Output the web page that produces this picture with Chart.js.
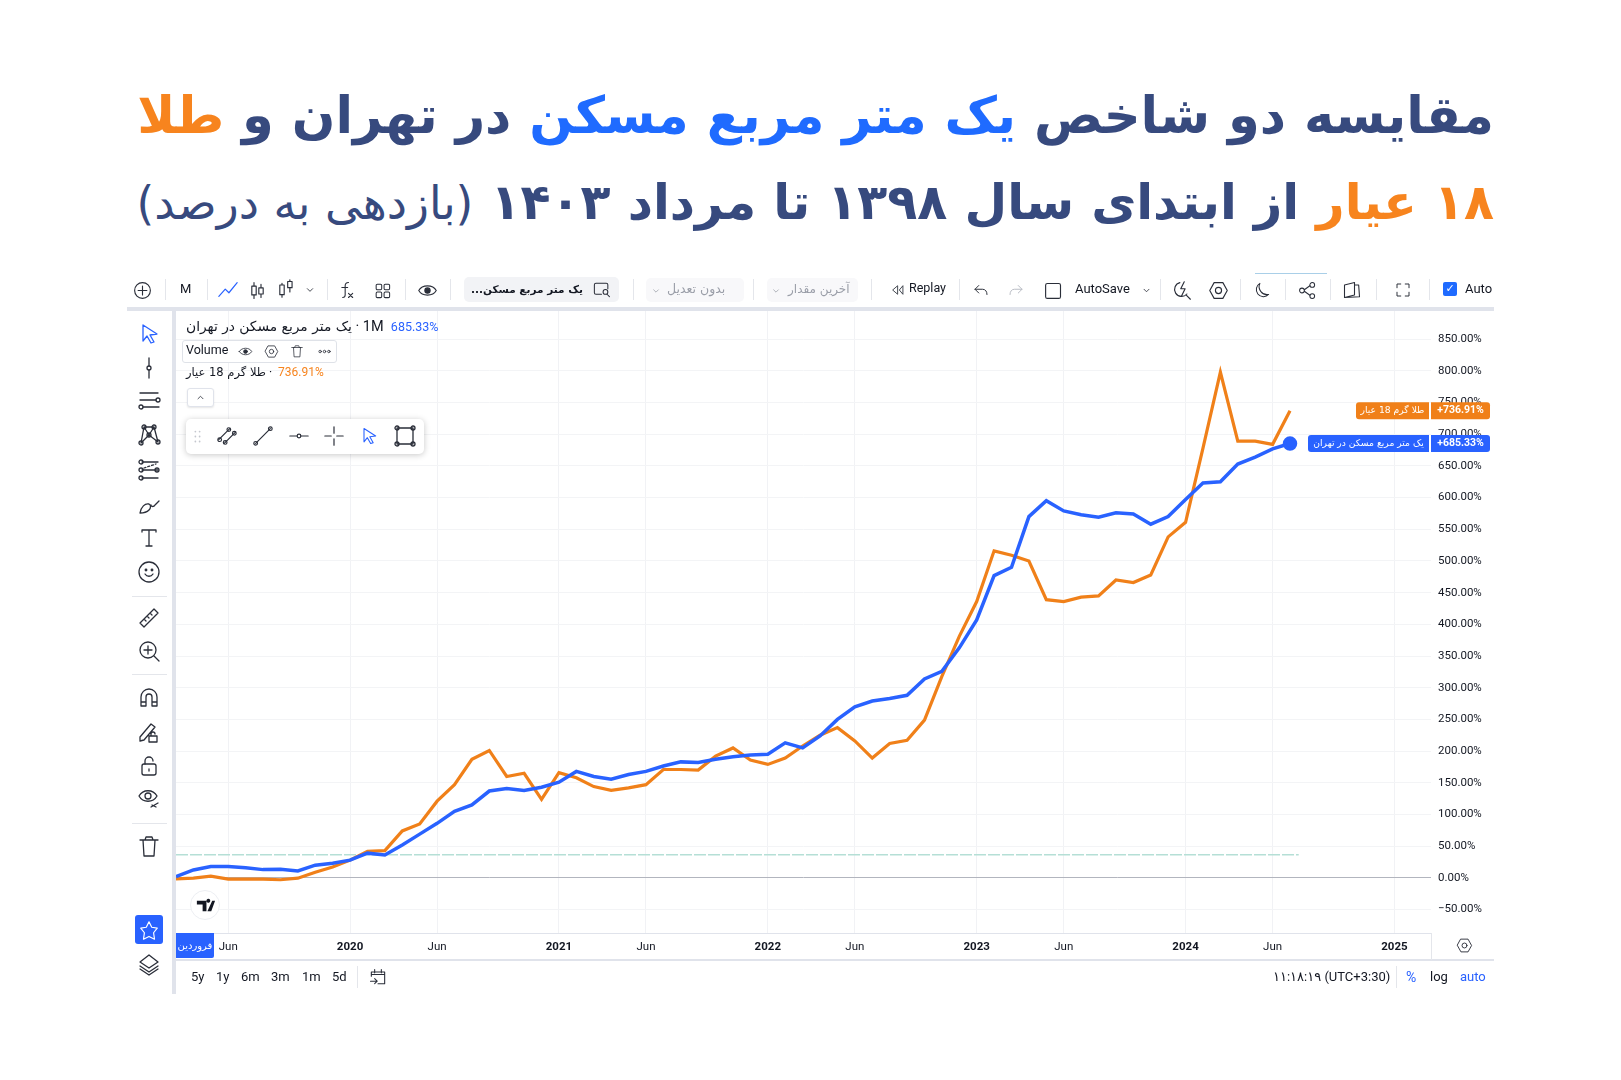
<!DOCTYPE html>
<html lang="fa">
<head>
<meta charset="utf-8">
<title>مقایسه مسکن و طلا</title>
<script src="https://cdn.jsdelivr.net/npm/chart.js@4"></script>
<style>
html, body { margin: 0; padding: 0; background: #fff; }
body { width: 1621px; height: 1080px; position: relative; overflow: hidden; font-family: Roboto, "DejaVu Sans", sans-serif; color: #131722; }
.abs { position: absolute; white-space: nowrap; }
.title { position: absolute; right: 127px; white-space: nowrap; direction: rtl; font-family: "DejaVu Sans", sans-serif; font-weight: 700; color: #374a7e; }
.blue { color: #1f6bff; }
.orange { color: #f7841e; }
.thin { font-weight: 400; }
svg.ic { position: absolute; fill: none; stroke: #2a2e39; stroke-width: 1.3; stroke-linecap: round; stroke-linejoin: round; }
#chartBox { position: absolute; left: 176px; top: 310px; width: 1318px; height: 650px; }
</style>
</head>
<body>

<div class="title" style="top:72px;font-size:51.2px;line-height:86px">مقایسه دو شاخص <span class="blue">یک متر مربع مسکن</span> در تهران و <span class="orange">طلا</span></div>
<div class="title" style="top:160px;font-size:49.2px;line-height:84px"><span class="orange">۱۸ عیار</span> از ابتدای سال ۱۳۹۸ تا مرداد ۱۴۰۳ <span class="thin" style="font-size:45.5px">(بازدهی به درصد)</span></div>

<div id="chartBox"><canvas id="chart"></canvas></div>
<div id="ui"></div>

<script>
// Series values, one per month from Mar 2019 to Jul 2024 (percent return)
const housingValues = [2, 12.5, 18, 18, 16, 13, 13.6, 11, 20, 23,
    28, 39, 36, 52, 69, 86, 105, 115, 137, 141,
    138, 143, 151, 168, 160, 155.5, 163, 168, 176.5, 183,
    182, 187, 191, 194, 195, 213, 205, 224, 250, 270,
    279, 283, 288, 314, 326, 363, 407, 477, 490, 570,
    595, 579, 573, 569, 576, 574, 558, 570, 597, 623,
    625, 653, 664, 677, 685.33];
const goldValues = [-1.5, -0.5, 2.6, -2, -2, -2, -3, -0.5, 9, 17,
    28, 42, 43, 74, 85, 121, 147, 187, 201, 160,
    165, 124, 166, 158, 144, 138, 142, 147, 171, 171,
    170, 192, 205, 186, 179, 189, 208, 225, 237, 216,
    189, 212, 217, 249, 318, 381, 436, 516, 509, 500,
    439, 436, 443, 445, 470, 466, 478, 538, 561, 678,
    798, 689, 689, 684, 736.91];

// Month index of every label on the time axis (0 = Mar 2019)
const xTickMonths = [3, 10, 15, 22, 27, 34, 39, 46, 51, 58, 63, 70];
const xTickLabels = ['Jun', '2020', 'Jun', '2021', 'Jun', '2022', 'Jun', '2023', 'Jun', '2024', 'Jun', '2025'];

const baselineMonths = [0, 64.5];
const baselineValues = [36.6, 36.6];

const housingName = 'یک متر مربع مسکن در تهران';
const goldName = 'طلا گرم 18 عیار';

const BLUE = '#2962ff';
const ORANGE = '#f08019';

// Price tags on the right edge, hung on the last value of each series
const tagsPlugin = {
    id: 'tags',
    afterDraw(chart) {
        const ctx = chart.ctx;
        const y = chart.scales.y;
        const drawTag = (value, name, color, left) => {
            const py = y.getPixelForValue(value);
            ctx.save();
            ctx.fillStyle = color;
            ctx.beginPath();
            ctx.roundRect(left, py - 8.5, 1253 - left, 17, [3, 0, 0, 3]);
            ctx.fill();
            ctx.beginPath();
            ctx.roundRect(1255, py - 8.5, 59, 17, [0, 3, 3, 0]);
            ctx.fill();
            ctx.fillStyle = '#fff';
            ctx.textBaseline = 'middle';
            ctx.textAlign = 'center';
            ctx.font = '9.2px "DejaVu Sans", Roboto';
            ctx.fillText(name, (left + 1253) / 2, py);
            ctx.font = '700 10.5px Roboto';
            ctx.fillText('+' + value.toFixed(2) + '%', 1284.5, py);
            ctx.restore();
        };
        drawTag(goldValues[goldValues.length - 1], goldName, ORANGE, 1180);
        drawTag(housingValues[housingValues.length - 1], housingName, BLUE, 1132);
    }
};

new Chart(document.getElementById('chart'), {
    type: 'line',
    data: {
        labels: housingValues.map((v, i) => i),
        datasets: [{
            label: housingName,
            data: housingValues,
            borderColor: BLUE,
            backgroundColor: BLUE,
            borderWidth: 3.5,
            order: 1,
            pointRadius: c => c.dataIndex === housingValues.length - 1 ? 5.5 : 0
        }, {
            label: goldName,
            data: goldValues,
            borderColor: ORANGE,
            borderWidth: 3.2,
            order: 2,
            pointRadius: 0
        }, {
            label: 'baseline',
            data: baselineMonths.map((m, i) => ({ x: m, y: baselineValues[i] })),
            borderColor: '#b5dfd6',
            borderWidth: 1.5,
            borderDash: [12, 2],
            order: 3,
            pointRadius: 0
        }]
    },
    options: {
        responsive: true,
        maintainAspectRatio: false,
        animation: false,
        clip: false,
        layout: { padding: 0, autoPadding: false },
        plugins: { legend: { display: false }, tooltip: { enabled: false } },
        scales: {
            x: {
                type: 'linear',
                min: 0,
                max: 72.1,
                afterBuildTicks: s => { s.ticks = xTickMonths.map(v => ({ value: v })); },
                afterFit: s => { s.height = 27; s.paddingLeft = 0; s.paddingRight = 0; },
                grid: { color: '#f1f2f5', drawTicks: false },
                border: { color: '#e0e3eb' },
                ticks: {
                    autoSkip: false,
                    maxRotation: 0,
                    padding: 7,
                    color: '#131722',
                    font: c => ({ family: 'Roboto', size: 11.5, weight: c.tick && c.tick.value % 12 === 10 ? 700 : 400 }),
                    callback: v => xTickLabels[xTickMonths.indexOf(v)]
                }
            },
            y: {
                position: 'right',
                min: -87,
                max: 896,
                afterFit: s => { s.width = 63; s.paddingTop = 0; s.paddingBottom = 0; },
                grid: {
                    drawTicks: false,
                    color: c => c.tick && c.tick.value === 0 ? '#b2b5be' : '#f3f4f6'
                },
                border: { display: false },
                ticks: {
                    stepSize: 50,
                    includeBounds: false,
                    padding: 7,
                    color: '#131722',
                    font: { family: 'Roboto', size: 11.5 },
                    callback: v => (v < 0 ? '−' + Math.abs(v).toFixed(2) : v.toFixed(2)) + '%'
                }
            }
        }
    },
    plugins: [tagsPlugin]
});

// Toolbar icons, drawn on a 24 unit box
const ICONS = {
    plus: '<circle cx="12" cy="12" r="9"/><path d="M12 7v10M7 12h10"/>',
    line: '<path d="M2 19l7-8 4 4 9-11"/>',
    bars: '<path d="M8 3v18M16 5v15"/><rect x="5.5" y="7" width="5" height="10" fill="#fff"/><rect x="13.5" y="9" width="5" height="7" fill="#fff"/>',
    hollow: '<path d="M8 6v16M17 2v14"/><rect x="5.5" y="8" width="5" height="11" fill="#fff"/><rect x="14.5" y="4" width="5" height="7" fill="#fff"/>',
    chevron: '<path d="M8 10l4 4 4-4"/>',
    fx: '<path d="M15 3c-3 0-4 1-4 4v11c0 2-1 3-3 3M7 9h7M15 16l5 5M20 16l-5 5"/>',
    grid: '<rect x="4" y="4" width="7" height="7" rx="1.5"/><rect x="14" y="4" width="7" height="7" rx="1.5"/><rect x="4" y="14" width="7" height="7" rx="1.5"/><rect x="14" y="14" width="7" height="7" rx="1.5"/>',
    eye: '<path d="M2 12c4-7 16-7 20 0c-4 7-16 7-20 0z"/><circle cx="12" cy="12" r="3" fill="#2a2e39"/>',
    search: '<path d="M12 18H5a2 2 0 0 1-2-2V6a2 2 0 0 1 2-2h13a2 2 0 0 1 2 2v5"/><circle cx="17" cy="15" r="3"/><path d="M19 18l3 3"/>',
    replay: '<path d="M11 6l-7 6 7 6zM19 6l-5 6 5 6z"/>',
    undo: '<path d="M9 6L4 11l5 5M4 11h10c4 0 6 3 6 7"/>',
    redo: '<path d="M15 6l5 5-5 5M20 11H10c-4 0-6 3-6 7"/>',
    square: '<rect x="3" y="4" width="17" height="17" rx="2"/>',
    alert: '<path d="M9 3a8 8 0 1 0 8 13M14 2l-4 8h5l-4 8M16 17l5 5"/>',
    hex: '<path d="M7 3h10l5 9-5 9H7l-5-9z"/><circle cx="12" cy="12" r="3.5"/>',
    moon: '<path d="M10 3a9 9 0 1 0 11 14A10 10 0 0 1 10 3z"/>',
    share: '<circle cx="18" cy="5" r="3"/><circle cx="5" cy="12" r="3"/><circle cx="18" cy="19" r="3"/><path d="M8 11l7-5M8 13l7 5"/>',
    book: '<path d="M3 6l12-3v15l-12 3zM15 6h5l1 14-18 1"/>',
    full: '<path d="M4 9V4h5M15 4h5v5M20 15v5h-5M9 20H4v-5"/>',
    arrow: '<path d="M6 3l14 9-7 1 4 7-3 1-4-7-4 5z"/>',
    vert: '<path d="M12 2v8M12 14v8"/><circle cx="12" cy="12" r="2"/>',
    hlines: '<path d="M3 4h18M3 11h16M6 18h16"/><circle cx="21" cy="11" r="2"/><circle cx="4" cy="18" r="2"/>',
    pattern: '<path d="M7 4L4 20M7 4l5 8 5-8 4 15M4 20l8-8 9 7M7 4l10 0"/><circle cx="7" cy="4" r="2"/><circle cx="17" cy="4" r="2"/><circle cx="4" cy="20" r="2"/><circle cx="21" cy="19" r="2"/><circle cx="12" cy="12" r="2"/>',
    fib: '<path d="M5 4h16M5 12h16M5 20h16"/><circle cx="4" cy="4" r="2"/><circle cx="4" cy="12" r="2"/><circle cx="4" cy="20" r="2"/><circle cx="20" cy="12" r="2"/><path d="M7 10l12-4" stroke-dasharray="2 2"/>',
    brush: '<path d="M3 20c1-6 5-10 9-9 2 1 2 4 0 6-2 2-6 3-9 3zM14 12c0 2 3 2 4 0l4-4"/>',
    text: '<path d="M5 4h14M12 4v16M9 20h6M5 4v2M19 4v2"/>',
    smile: '<circle cx="12" cy="12" r="10"/><circle cx="9" cy="10" r=".8"/><circle cx="15" cy="10" r=".8"/><path d="M8 14c2 3 6 3 8 0"/>',
    ruler: '<path d="M3 17L17 3l4 4L7 21zM7 13l2 2M10 10l2 2M13 7l2 2"/>',
    zoom: '<circle cx="11" cy="11" r="8"/><path d="M17 17l5 5M11 7v8M7 11h8"/>',
    magnet: '<path d="M4 20V11a8 8 0 0 1 16 0v9h-5v-9a3 3 0 0 0-6 0v9zM4 16h5M15 16h5"/>',
    pencil: '<path d="M3 17L14 4l4 3L7 20l-4 1zM12 22h8v-6h-8zM14 16v-2a2 2 0 0 1 4 0"/>',
    lock: '<rect x="5" y="10" width="14" height="11" rx="2"/><path d="M8 10V7a4 4 0 0 1 8 0M12 15v2"/>',
    eyeoff: '<path d="M2 10c4-7 14-7 18 0c-4 7-14 7-18 0z"/><circle cx="11" cy="10" r="3"/><path d="M14 21l7-4M15 19l4 2"/>',
    trash: '<path d="M3 6h18M8 6l1-3h6l1 3M6 6l1 16h10l1-16"/>',
    star: '<path d="M12 3l3 6 6 1-4 5 1 7-6-3-6 3 1-7-4-5 6-1z"/>',
    layers: '<path d="M12 3l9 7-9 6-9-6zM3 14l9 6 9-6M3 17l9 6 9-6"/>',
    dots3: '<circle cx="5" cy="12" r="2"/><circle cx="12" cy="12" r="2"/><circle cx="19" cy="12" r="2"/>',
    chevUp: '<path d="M8 14l4-4 4 4"/>',
    drag: '<path d="M9 5v.1M15 5v.1M9 12v.1M15 12v.1M9 19v.1M15 19v.1" stroke-width="2.5"/>',
    seg2: '<path d="M3 16L15 4M9 20L21 8"/><circle cx="4" cy="16" r="2"/><circle cx="14" cy="5" r="2"/><circle cx="10" cy="19" r="2"/><circle cx="20" cy="9" r="2"/>',
    seg: '<path d="M4 20L20 4"/><circle cx="4" cy="20" r="2"/><circle cx="20" cy="4" r="2"/>',
    hseg: '<path d="M2 12h8M14 12h8"/><circle cx="12" cy="12" r="2"/>',
    cross: '<path d="M12 2v7M12 15v7M2 12h7M15 12h7"/>',
    rect: '<rect x="4" y="4" width="16" height="16"/><circle cx="4" cy="4" r="2"/><circle cx="20" cy="4" r="2"/><circle cx="4" cy="20" r="2"/><circle cx="20" cy="20" r="2"/>',
    cal: '<path d="M4 11V6h16v14h-8M4 9h16M8 3v4M16 3v4M3 17h8M8 14l3 3-3 3"/>',
    logo: '<path d="M3 7h10v11H9v-7H3zM17 7a2 2 0 1 0 0 .1zM18 18h-4l5-11h3z" fill="#131722" stroke="none"/>'
};

const ui = document.getElementById('ui');
const persian = "font-family:'DejaVu Sans';";

function icon(name, x, y, size, color) {
    ui.insertAdjacentHTML('beforeend',
        `<svg class="ic" viewBox="0 0 24 24" style="left:${x - size / 2}px;top:${y - size / 2}px;width:${size}px;height:${size}px;z-index:3;${color ? 'stroke:' + color : ''}">${ICONS[name]}</svg>`);
}
function box(x, y, w, h, css, html) {
    ui.insertAdjacentHTML('beforeend',
        `<div class="abs" style="left:${x}px;top:${y}px;width:${w}px;height:${h}px;z-index:2;box-sizing:border-box;${css}">${html || ''}</div>`);
}
function label(text, x, y, css) {
    ui.insertAdjacentHTML('beforeend',
        `<div class="abs" style="left:${x}px;top:${y - 10}px;line-height:20px;font-size:13px;z-index:3;${css || ''}">${text}</div>`);
}
function vsep(x, y, h) {
    box(x, y, 1, h, 'background:#e4e6eb');
}

// Frame lines around the chart
box(127, 307, 1367, 4, 'background:#e0e3eb');
box(172, 310, 4, 684, 'background:#e0e3eb');
box(176, 959, 1318, 1.5, 'background:#e0e3eb');
box(1431, 933, 1, 27, 'background:#e4e6eb');
box(1255, 273, 72, 1, 'background:#a9cfe8');

// Top toolbar
[165, 207, 327, 405, 450, 633, 753, 871, 959, 1160, 1240, 1285, 1330, 1376, 1429].forEach(x => vsep(x, 279, 21));
icon('plus', 142, 290, 21);
label('M', 180, 289);
icon('line', 228, 290, 22, '#2962ff');
icon('bars', 257, 290, 21);
icon('hollow', 285, 288, 21);
icon('chevron', 310, 290, 16);
icon('fx', 346, 290, 20);
icon('grid', 382, 290, 19);
icon('eye', 427, 290, 21);
box(464, 277, 155, 25, 'background:#f2f3f6;border-radius:5px');
label('...یک متر مربع مسکن', 471, 289, persian + 'font-weight:700;font-size:10.5px');
icon('search', 601, 289, 19);
box(646, 278, 98, 24, 'background:#f8f8fa;border-radius:5px');
label('بدون تعدیل', 667, 289, persian + 'color:#9a9ea8;font-size:12.5px');
icon('chevron', 656, 291, 14, '#9a9ea8');
box(767, 278, 91, 24, 'background:#f8f8fa;border-radius:5px');
label('آخرین مقدار', 788, 289, persian + 'color:#9a9ea8;font-size:12px');
icon('chevron', 776, 291, 14, '#9a9ea8');
icon('replay', 898, 290, 16);
label('Replay', 909, 288, 'font-size:12.5px');
icon('undo', 981, 290, 18);
icon('redo', 1016, 290, 18, '#b8bbc3');
icon('square', 1053, 290, 21);
label('AutoSave', 1075, 289);
icon('chevron', 1146, 290, 15);
icon('alert', 1182, 290, 21);
icon('hex', 1218, 290, 21);
icon('moon', 1261, 290, 19);
icon('share', 1307, 290, 19);
icon('book', 1352, 290, 20);
icon('full', 1403, 290, 18);
box(1443, 282, 14, 14, 'background:#1f6bff;border-radius:2px;color:#fff;font-size:11px;line-height:14px;text-align:center;font-weight:700', '✓');
box(1465, 279, 29, 20, 'overflow:hidden;font-size:13px;line-height:20px', 'Auto');

// Left toolbar
[['arrow', 334, '#2962ff'], ['vert', 368], ['hlines', 401], ['pattern', 435], ['fib', 470], ['brush', 505], ['text', 538], ['smile', 572],
 ['ruler', 618], ['zoom', 651], ['magnet', 698], ['pencil', 732], ['lock', 766], ['eyeoff', 798], ['trash', 846], ['layers', 964]]
    .forEach(d => icon(d[0], 149, d[1], 24, d[2]));
[596, 674, 823].forEach(y => box(132, y, 35, 1, 'background:#e4e6eb'));
box(135, 915, 28, 29, 'background:#2962ff;border-radius:3px');
icon('star', 149, 930, 22, '#fff');

// Legend block in the top left corner of the chart
label('<bdi style="' + persian + 'font-size:13.8px">' + housingName + '</bdi> · 1M &nbsp;<span style="color:#2962ff;font-size:12.5px">685.33%</span>', 186, 326, 'font-size:14.5px;direction:ltr');
box(182, 340, 155, 23, 'border:1px solid #dfe2e8;border-radius:3px;background:#fff');
label('Volume', 186, 350, 'font-size:12.5px');
icon('eye', 245, 351, 15);
icon('hex', 271, 351, 15);
icon('trash', 297, 351, 14);
icon('dots3', 324, 351, 15);
label('<bdi style="' + persian + 'font-size:11.5px">' + goldName + '</bdi> · &nbsp;<span style="color:#f7841e;font-size:12px">736.91%</span>', 186, 372, 'font-size:12px');
box(187, 388, 27, 19, 'background:#fff;border:1px solid #e0e3eb;border-radius:3px;box-shadow:0 1px 2px rgba(0,0,0,.1)');
icon('chevUp', 200, 397, 15);

// Floating drawing toolbar
box(186, 419, 238, 35, 'background:#fff;border-radius:5px;box-shadow:0 1px 6px rgba(0,0,0,.22)');
icon('drag', 197, 436, 17, '#c4c7ce');
icon('seg2', 227, 436, 22);
icon('seg', 263, 436, 22);
icon('hseg', 299, 436, 22);
icon('cross', 334, 436, 22);
icon('arrow', 369, 436, 20, '#2962ff');
icon('rect', 405, 436, 24);

// Chart logo and the start of the time axis
box(190, 890, 30, 30, 'background:#fff;border:1px solid #eceef2;border-radius:50%');
icon('logo', 205, 905, 23);
box(176, 933, 38, 25, "background:#2962ff;border-radius:0 0 2px 0;color:#fff;overflow:hidden;font-family:'DejaVu Sans';font-size:10px;line-height:25px;direction:rtl;text-align:center", 'فروردین');
icon('hex', 1464, 945, 17);

// Bottom row
[['5y', 191], ['1y', 216], ['6m', 241], ['3m', 271], ['1m', 302], ['5d', 332]].forEach(d => label(d[0], d[1], 977));
vsep(357, 966, 22);
icon('cal', 378, 977, 20);
label('۱۱:۱۸:۱۹ (UTC+3:30)', 1273, 977, 'font-size:13px;direction:ltr');
vsep(1396, 966, 22);
label('%', 1406, 977, 'color:#2962ff;font-size:14px');
label('log', 1430, 977);
label('auto', 1460, 977, 'color:#2962ff');
</script>
</body>
</html>
